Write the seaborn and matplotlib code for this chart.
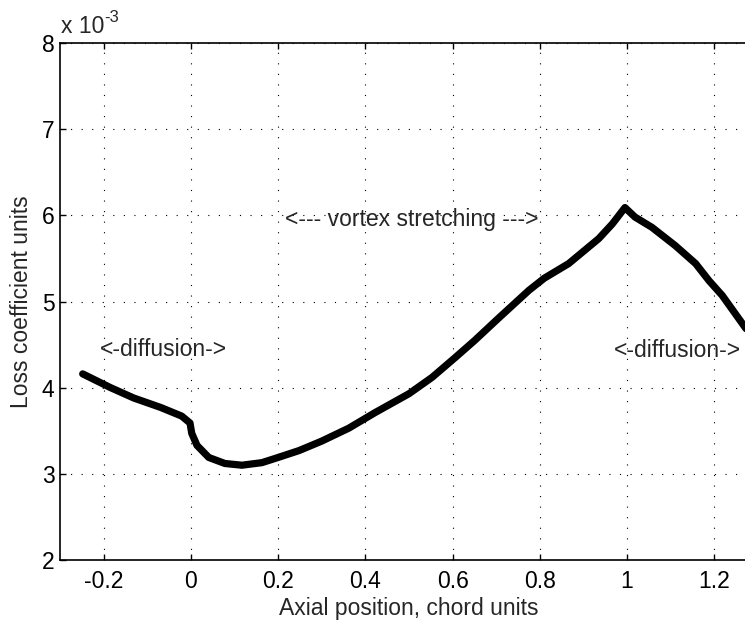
import numpy as np
import matplotlib
matplotlib.use("Agg")
import matplotlib.pyplot as plt
import pandas as pd
import seaborn as sns

# loss coefficient (x 1e-3) along the axial position
axial_pos = [-0.248, -0.184, -0.131, -0.069, -0.021, -0.002, 0.002, 0.014, 0.041, 0.078,
             0.117, 0.163, 0.2, 0.248, 0.30, 0.362, 0.422, 0.5, 0.553, 0.606,
             0.651, 0.706, 0.775, 0.81, 0.866, 0.935, 0.966, 0.995, 1.018, 1.057,
             1.11, 1.157, 1.188, 1.218, 1.276]
loss_e3 = [4.16, 4.00, 3.88, 3.77, 3.67, 3.59, 3.47, 3.33, 3.19, 3.12,
           3.10, 3.13, 3.19, 3.27, 3.38, 3.53, 3.71, 3.93, 4.12, 4.35,
           4.55, 4.81, 5.13, 5.27, 5.44, 5.73, 5.90, 6.09, 5.98, 5.86,
           5.65, 5.44, 5.24, 5.07, 4.66]

x_ticks = [-0.2, 0, 0.2, 0.4, 0.6, 0.8, 1, 1.2]
x_tick_labels = ["-0.2", "0", "0.2", "0.4", "0.6", "0.8", "1", "1.2"]
y_ticks = [2, 3, 4, 5, 6, 7, 8]

df = pd.DataFrame({"pos": axial_pos, "loss": loss_e3})

sns.set_style("ticks")
plt.rcParams["font.family"] = ["Liberation Sans", "DejaVu Sans"]
fs = 16.5

fig = plt.figure(figsize=(7.45, 6.2), dpi=100)
ax = fig.add_axes([60/745, 60/620, 698/745, 517/620])

sns.lineplot(data=df, x="pos", y="loss", ax=ax, color="black", linewidth=5.2, sort=False)

ax.set_xlim(-0.3, 1.3)
ax.set_ylim(2, 8)
ax.set_xticks(x_ticks)
ax.set_xticklabels(x_tick_labels)
ax.set_yticks(y_ticks)
ax.grid(True, color="black", linestyle=(0, (1, 8.5)), linewidth=0.8)
ax.tick_params(direction="in", length=4, width=1, top=True, right=True,
               labelsize=fs, colors="black")
ax.tick_params(axis="x", pad=7)
ax.tick_params(axis="y", pad=4)
for s in ax.spines.values():
    s.set_linewidth(1.2)
    s.set_color("black")

ax.set_xlabel("Axial position, chord units", fontsize=fs, labelpad=3)
ax.set_ylabel("Loss coefficient units", fontsize=fs, labelpad=6)

ax.text(-0.063, 4.44, "<-diffusion->", fontsize=fs, ha="center", va="center")
ax.text(0.97, 4.43, "<-diffusion->", fontsize=fs, ha="left", va="center")
ax.text(0.507, 5.95, "<--- vortex stretching --->", fontsize=fs, ha="center", va="center")

fig.text(61/745, 1 - 33/620, "x 10", fontsize=fs, ha="left", va="baseline")
fig.text(104/745, 1 - 22/620, "-3", fontsize=12, ha="left", va="baseline")

plt.savefig("out.png", dpi=100)
